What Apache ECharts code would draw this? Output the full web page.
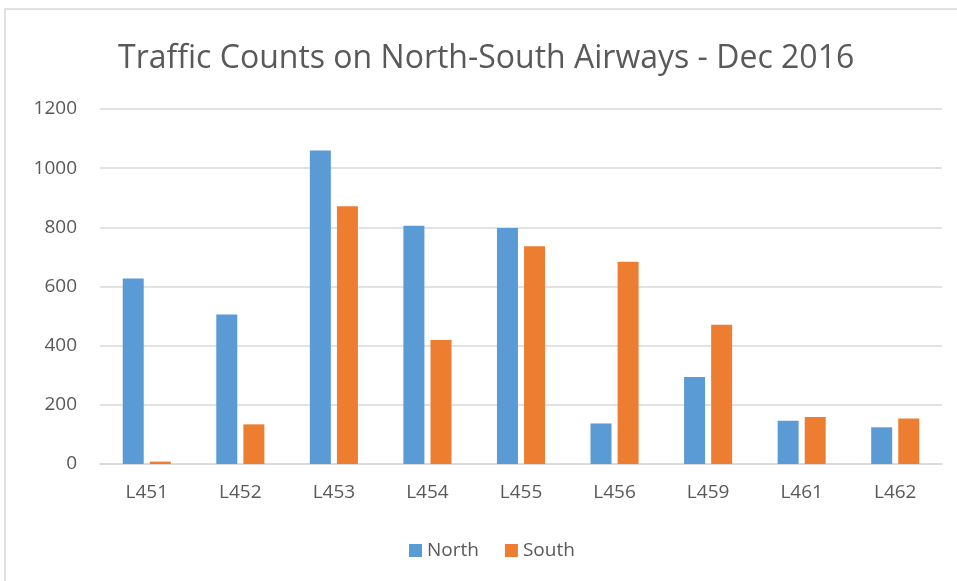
<!DOCTYPE html>
<html>
<head>
<meta charset="utf-8">
<script src="https://cdn.jsdelivr.net/npm/echarts@6/dist/echarts.min.js"></script>
<style>
  html, body { margin: 0; padding: 0; background: #fff; }
  #chart { width: 957px; height: 581px; }
</style>
</head>
<body>
<div id="chart"></div>
<script>
const airways = ['L451', 'L452', 'L453', 'L454', 'L455', 'L456', 'L459', 'L461', 'L462'];
const northCounts = [627, 505, 1060, 805, 798, 137, 294, 146, 124];
const southCounts = [8, 134, 871, 419, 736, 684, 471, 159, 154];
const yTicks = [0, 200, 400, 600, 800, 1000, 1200];

const font = 'Open Sans, Liberation Sans, sans-serif';
const chart = echarts.init(document.getElementById('chart'));
chart.setOption({
  animation: false,
  backgroundColor: '#fff',
  graphic: [{
    type: 'rect',
    shape: { x: 5, y: 9, width: 960, height: 580 },
    style: { fill: 'none', stroke: '#d9d9d9', lineWidth: 1.5 },
    z: -1
  }],
  title: {
    text: 'Traffic Counts on North-South Airways - Dec 2016',
    left: 113,
    top: 38,
    textStyle: { fontFamily: font, fontSize: 32, fontWeight: 'normal', color: '#595959' }
  },
  legend: {
    top: 536,
    left: 404,
    itemWidth: 13,
    itemHeight: 13,
    itemGap: 26,
    icon: 'rect',
    textStyle: { fontFamily: font, fontSize: 19, color: '#595959' },
    data: ['North', 'South']
  },
  grid: { left: 100, right: 15, top: 109, bottom: 117 },
  xAxis: {
    type: 'category',
    data: airways,
    axisTick: { show: false },
    axisLine: { lineStyle: { color: '#d9d9d9', width: 1.5 } },
    axisLabel: { fontFamily: font, fontSize: 19, color: '#595959', margin: 19 }
  },
  yAxis: {
    type: 'value',
    min: yTicks[0],
    max: yTicks[yTicks.length - 1],
    interval: 200,
    axisLine: { show: false },
    axisTick: { show: false },
    axisLabel: {
      fontFamily: font, fontSize: 19, color: '#595959', margin: 23,
      formatter: (v) => String(v)
    },
    splitLine: { lineStyle: { color: '#d9d9d9', width: 1.5 } }
  },
  series: [
    {
      name: 'North',
      type: 'bar',
      data: northCounts,
      barWidth: 21,
      barGap: '29%',
      itemStyle: { color: '#5b9bd5' }
    },
    {
      name: 'South',
      type: 'bar',
      data: southCounts,
      barWidth: 21,
      itemStyle: { color: '#ed7d31' }
    }
  ]
});
</script>
</body>
</html>
